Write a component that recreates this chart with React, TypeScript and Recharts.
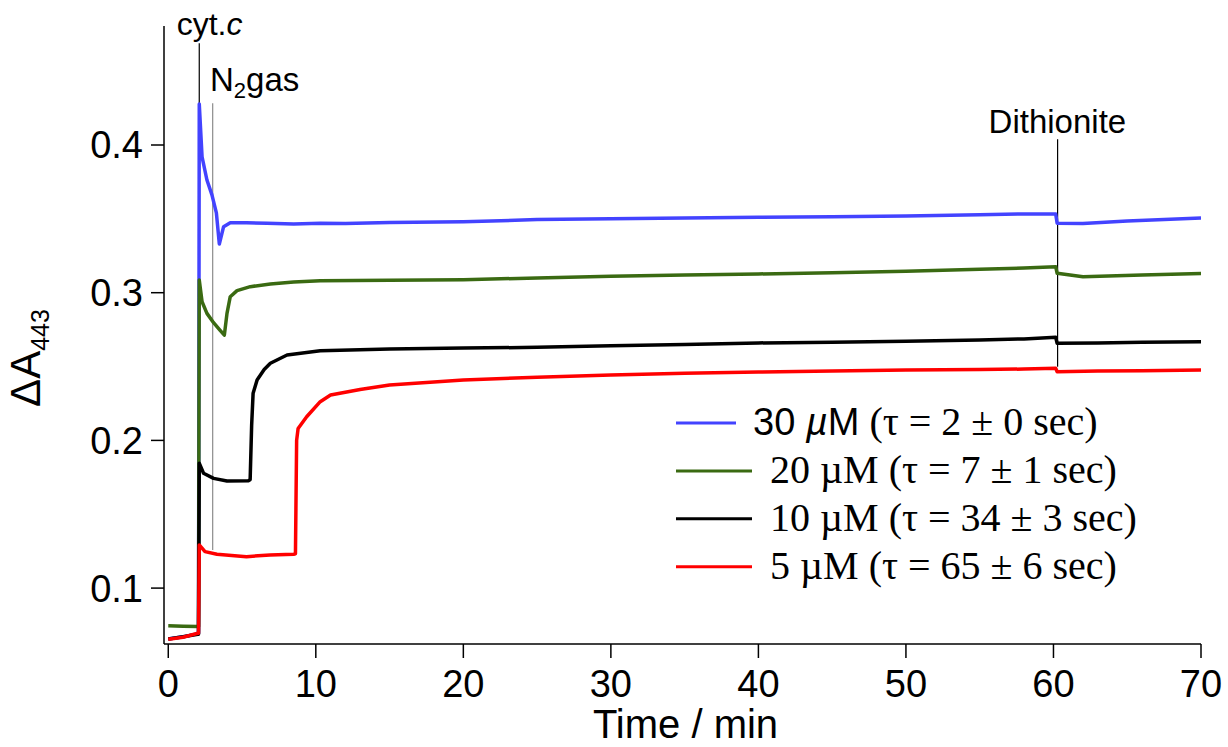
import { LineChart, Line, XAxis, YAxis, ReferenceLine, Legend } from 'recharts';

const SANS = '"Liberation Sans", Arial, Helvetica, sans-serif';
const SERIF = '"Liberation Serif", "Times New Roman", serif';

const xTicks = [0, 10, 20, 30, 40, 50, 60, 70];
const yTicks = [0.1, 0.2, 0.3, 0.4];

// time (min) / ΔA443
const t30 = [0, 1, 2, 2.05, 2.1, 2.29, 2.62, 2.96, 3.26, 3.46, 3.75, 4.2, 5.3, 6.7, 8.5, 10.3, 12, 15, 20, 25, 30, 35, 40, 45, 50, 55, 58, 60.15, 60.25, 62, 65, 70];
const a30 = [0.0655, 0.067, 0.0692, 0.0692, 0.4278, 0.392, 0.3763, 0.3662, 0.354, 0.333, 0.3447, 0.3474, 0.3474, 0.347, 0.3465, 0.347, 0.3468, 0.3475, 0.348, 0.3495, 0.35, 0.3505, 0.351, 0.3515, 0.352, 0.3528, 0.3533, 0.3533, 0.347, 0.3468, 0.3485, 0.3505];

const t20 = [0, 1, 2, 2.05, 2.1, 2.29, 2.62, 3.07, 3.5, 3.8, 3.98, 4.2, 4.66, 5.56, 6.92, 8.5, 10.3, 15, 20, 25, 30, 35, 40, 45, 50, 55, 58, 60.15, 60.25, 62, 66, 70];
const a20 = [0.0745, 0.0742, 0.074, 0.074, 0.3086, 0.2939, 0.286, 0.2797, 0.2747, 0.2713, 0.286, 0.2973, 0.3014, 0.3041, 0.3059, 0.3072, 0.3081, 0.3085, 0.3088, 0.31, 0.3112, 0.312, 0.3127, 0.3135, 0.3145, 0.3158, 0.3167, 0.3176, 0.3131, 0.3108, 0.312, 0.313];

const t10 = [0, 1, 2, 2.05, 2.1, 2.39, 3.07, 3.98, 5.45, 5.55, 5.65, 5.75, 6.02, 6.5, 6.92, 8.05, 10.3, 15, 20, 25, 30, 35, 40, 45, 50, 55, 58, 60.15, 60.25, 63, 66, 70];
const a10 = [0.0655, 0.067, 0.0688, 0.0688, 0.1845, 0.1778, 0.1743, 0.1725, 0.1727, 0.1735, 0.21, 0.232, 0.2409, 0.248, 0.2522, 0.2578, 0.2607, 0.2618, 0.2625, 0.263, 0.264, 0.265, 0.266, 0.2665, 0.2672, 0.268, 0.2687, 0.2698, 0.2657, 0.266, 0.2665, 0.2668];

const t5 = [0, 1, 2, 2.05, 2.1, 2.49, 3.3, 5.3, 6.9, 8.5, 8.62, 8.7, 8.8, 9.38, 10.3, 11, 13, 15, 20, 25, 30, 35, 40, 45, 50, 55, 58, 60.15, 60.25, 63, 66, 70];
const a5 = [0.0653, 0.0667, 0.0694, 0.0694, 0.1292, 0.1247, 0.1229, 0.1213, 0.1224, 0.1229, 0.1232, 0.2, 0.208, 0.216, 0.2262, 0.2307, 0.2345, 0.2375, 0.2409, 0.2428, 0.2443, 0.2455, 0.2463, 0.247, 0.2477, 0.248, 0.2483, 0.2488, 0.2465, 0.247, 0.2472, 0.2477];

const seriesNames = ['30 µM', '20 µM', '10 µM', '5 µM'];
const tauLabels = ['(τ = 2 ± 0 sec)', '(τ = 7 ± 1 sec)', '(τ = 34 ± 3 sec)', '(τ = 65 ± 6 sec)'];
const seriesColors = ['#4343ff', '#3a6a12', '#000000', '#ff0000'];

// additions: time, top and bottom of the marker line
const eventTimes = [2.1, 3.01, 60.28];
const eventTop = [0.4689, 0.4282, 0.4039];
const eventBottom = [0.4278, 0.1258, 0.2499];

const rows = (t: number[], a: number[]) => t.map((x, i) => ({ t: x, a: a[i] }));
const seriesData = [rows(t30, a30), rows(t20, a20), rows(t10, a10), rows(t5, a5)];

function CytLabel({ viewBox }: any) {
  return (
    <text x={viewBox.x - 22.6} y={viewBox.y - 8} fontFamily={SANS} fontSize={32} fill="#000">
      cyt.<tspan fontStyle="italic">c</tspan>
    </text>
  );
}

function GasLabel({ viewBox }: any) {
  return (
    <text x={viewBox.x - 2.7} y={viewBox.y - 12.5} fontFamily={SANS} fontSize={33} fill="#000">
      N<tspan fontSize={22} dy={7}>2</tspan>
      <tspan dy={-7}>gas</tspan>
    </text>
  );
}

function DithLabel({ viewBox }: any) {
  return (
    <text x={viewBox.x - 69} y={viewBox.y - 6.6} fontFamily={SANS} fontSize={33} fill="#000">
      Dithionite
    </text>
  );
}

function YTitle({ viewBox }: any) {
  const cy = viewBox.y + viewBox.height / 2 + 23;
  return (
    <text x={40} y={cy} transform={`rotate(-90, 40, ${cy})`} textAnchor="middle" fontFamily={SANS} fontSize={42} fill="#000">
      ΔA<tspan fontSize={25} dy={9}>443</tspan>
    </text>
  );
}

function XTitle({ viewBox }: any) {
  return (
    <text x={viewBox.x + viewBox.width / 2 + 3} y={viewBox.y + 94} textAnchor="middle" fontFamily={SANS} fontSize={40} fill="#000">
      Time / min
    </text>
  );
}

function KineticsLegend() {
  return (
    <svg width={560} height={200} style={{ display: 'block', overflow: 'visible' }}>
      {seriesNames.map((name, i) => {
        const y = 28 + i * 47.9;
        const first = i === 0;
        return (
          <g key={name}>
            <line x1={16} x2={first ? 76 : 92} y1={y} y2={y} stroke={seriesColors[i]} strokeWidth={3} />
            {first ? (
              <text x={93} y={y + 12} fill="#000">
                <tspan fontFamily={SANS} fontSize={38}>30 </tspan>
                <tspan fontFamily={SANS} fontSize={38} fontStyle="italic">µ</tspan>
                <tspan fontFamily={SANS} fontSize={38}>M</tspan>
                <tspan fontFamily={SERIF} fontSize={40}> {tauLabels[i]}</tspan>
              </text>
            ) : (
              <text x={110} y={y + 12} fontFamily={SERIF} fontSize={40} fill="#000">
                {name} {tauLabels[i]}
              </text>
            )}
          </g>
        );
      })}
    </svg>
  );
}

export default function App() {
  return (
    <div style={{ position: 'absolute', left: 0, top: 0, background: '#fff' }}>
      <LineChart width={1228} height={747} margin={{ top: 26, right: 27, bottom: 0, left: 0 }}>
        <XAxis
          dataKey="t"
          type="number"
          domain={[-0.29, 70]}
          ticks={xTicks}
          allowDataOverflow
          height={103}
          tickSize={14}
          tickMargin={12}
          axisLine={{ stroke: '#000', strokeWidth: 1.5 }}
          tickLine={{ stroke: '#000', strokeWidth: 1.5 }}
          tick={{ fontSize: 38, fill: '#000', fontFamily: SANS }}
          label={XTitle}
        />
        <YAxis
          type="number"
          domain={[0.06215, 0.48057]}
          ticks={yTicks}
          allowDataOverflow
          width={164}
          tickSize={13}
          tickMargin={8}
          tickFormatter={(v) => v.toFixed(1)}
          axisLine={{ stroke: '#000', strokeWidth: 1.5 }}
          tickLine={{ stroke: '#000', strokeWidth: 1.5 }}
          tick={{ fontSize: 38, fill: '#000', fontFamily: SANS }}
          label={YTitle}
        />
        <ReferenceLine
          segment={[{ x: eventTimes[0], y: eventTop[0] }, { x: eventTimes[0], y: eventBottom[0] }]}
          stroke="#000"
          strokeWidth={1.2}
          ifOverflow="visible"
          label={CytLabel}
        />
        <ReferenceLine
          segment={[{ x: eventTimes[1], y: eventTop[1] }, { x: eventTimes[1], y: eventBottom[1] }]}
          stroke="#8c8c8c"
          strokeWidth={1.2}
          ifOverflow="visible"
          label={GasLabel}
        />
        <ReferenceLine
          segment={[{ x: eventTimes[2], y: eventTop[2] }, { x: eventTimes[2], y: eventBottom[2] }]}
          stroke="#000"
          strokeWidth={1.2}
          ifOverflow="visible"
          label={DithLabel}
        />
        {seriesData.map((d, i) => (
          <Line
            key={seriesNames[i]}
            data={d}
            dataKey="a"
            name={seriesNames[i]}
            type="linear"
            stroke={seriesColors[i]}
            strokeWidth={3.5}
            strokeLinejoin="round"
            dot={false}
            activeDot={false}
            isAnimationActive={false}
          />
        ))}
        <Legend
          layout="vertical"
          align="center"
          verticalAlign="middle"
          content={<KineticsLegend />}
          wrapperStyle={{ position: 'absolute', left: 660, top: 395, width: 560, height: 200 }}
        />
      </LineChart>
    </div>
  );
}
